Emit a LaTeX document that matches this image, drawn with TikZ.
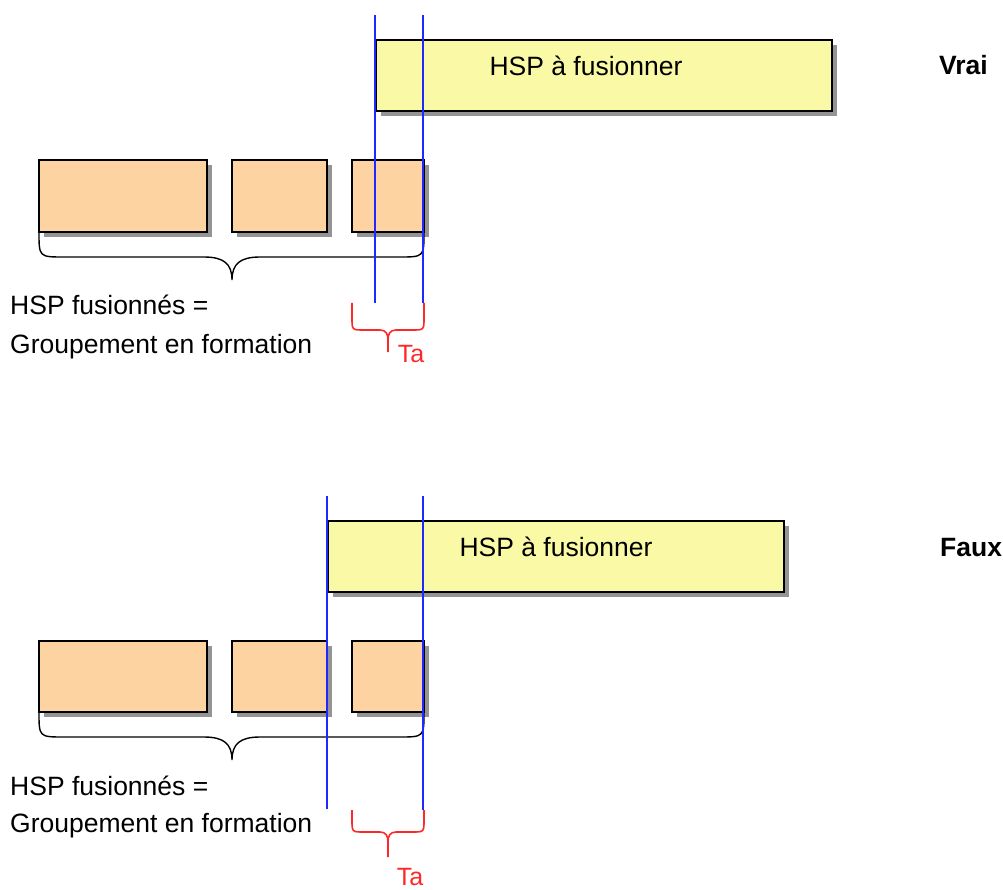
\documentclass[tikz,border=0pt]{standalone}
\usepackage{fontspec}
\setmainfont{Liberation Sans}
\definecolor{hspyellow}{RGB}{250,249,166}
\definecolor{hsporange}{RGB}{252,211,161}
\definecolor{markblue}{RGB}{30,40,255}
\definecolor{tared}{RGB}{255,40,40}
\tikzset{
  bar/.style={draw=black, line width=1.4pt, fill=hspyellow, inner sep=0pt, outer sep=0pt, anchor=north west},
  seg/.style={draw=black, line width=1.4pt, fill=hsporange, inner sep=0pt, outer sep=0pt, anchor=north west, minimum height=72pt},
  shadowfill/.style={fill=black!42},
  marker/.style={draw=markblue, line width=1.8pt},
  tabrace/.style={draw=tared, line width=1.6pt},
  grpbrace/.style={draw=black, line width=1.4pt},
  txt/.style={font=\fontsize{26.5}{30}\selectfont, inner sep=0pt, anchor=base west},
  boldtxt/.style={font=\fontsize{26.5}{30}\selectfont\bfseries, inner sep=0pt, anchor=base west},
  tatxt/.style={font=\fontsize{25}{30}\selectfont, text=tared, inner sep=0pt, text depth=0pt, anchor=base},
}
\begin{document}
\begin{tikzpicture}[x=1pt,y=-1pt]
\useasboundingbox (0,0) rectangle (1003,890);

% ---------------- top panel (Vrai) ----------------
\fill[shadowfill] (381,45) rectangle (837,116);
\node[bar, minimum width=456pt, minimum height=71pt] (hspA) at (376,40) {};
\node[txt, anchor=base] (hspAt) at (586,76) {HSP à fusionner};
\node[boldtxt] (vrai) at (939,75) {Vrai};

\fill[shadowfill] (44,165) rectangle (212,237);
\fill[shadowfill] (237,165) rectangle (332,237);
\fill[shadowfill] (357,165) rectangle (429,237);
\node[seg, minimum width=168pt] (a1) at (39,160) {};
\node[seg, minimum width=95pt] (a2) at (232,160) {};
\node[seg, minimum width=72pt] (a3) at (352,160) {};

\draw[grpbrace] (a1.south west) .. controls (39,257) .. (64,257) -- (204,257)
  .. controls (224,257) and (232,264) .. (232,280)
  .. controls (232,264) and (240,257) .. (260,257) -- (399,257)
  .. controls (424,257) .. (a3.south east);

\node[txt] (fusA) at (10,315) {HSP fusionnés =};
\node[txt] (grpA) at (10,353) {Groupement en formation};

\coordinate (bA1t) at (375,15);
\coordinate (bA1b) at (375,303);
\coordinate (bA2t) at (423,15);
\coordinate (bA2b) at (423,303);
\coordinate (rAl) at (352,303);
\coordinate (rAr) at (424,303);
\draw[tabrace] (rAl) -- (352,318) .. controls (352,330) .. (364,330) -- (380,330)
  .. controls (386,330) and (388,334) .. (388,340) -- (388,352)
  (388,340) .. controls (388,334) and (390,330) .. (396,330) -- (412,330)
  .. controls (424,330) .. (424,318) -- (rAr);
\node[tatxt] (taA) at (411,362) {Ta};
\draw[marker] (bA1t) -- (bA1b);
\draw[marker] (bA2t) -- (bA2b);

% ---------------- bottom panel (Faux) ----------------
\fill[shadowfill] (333,526) rectangle (789,597);
\node[bar, minimum width=456pt, minimum height=71pt] (hspB) at (328,521) {};
\node[txt, anchor=base] (hspBt) at (556,556) {HSP à fusionner};
\node[boldtxt] (faux) at (940,556) {Faux};

\fill[shadowfill] (44,646) rectangle (212,717);
\fill[shadowfill] (237,646) rectangle (332,717);
\fill[shadowfill] (357,646) rectangle (429,717);
\node[seg, minimum width=168pt, minimum height=71pt] (b1) at (39,641) {};
\node[seg, minimum width=95pt, minimum height=71pt] (b2) at (232,641) {};
\node[seg, minimum width=72pt, minimum height=71pt] (b3) at (352,641) {};

\draw[grpbrace] (b1.south west) .. controls (39,737) .. (64,737) -- (204,737)
  .. controls (224,737) and (232,744) .. (232,760)
  .. controls (232,744) and (240,737) .. (260,737) -- (399,737)
  .. controls (424,737) .. (b3.south east);

\node[txt] (fusB) at (10,795) {HSP fusionnés =};
\node[txt] (grpB) at (10,832) {Groupement en formation};

\coordinate (bB1t) at (327,496);
\coordinate (bB1b) at (327,809);
\coordinate (bB2t) at (423,496);
\coordinate (bB2b) at (423,810);
\coordinate (rBl) at (352,810);
\coordinate (rBr) at (424,810);
\draw[tabrace] (rBl) -- (352,820) .. controls (352,832) .. (364,832) -- (380,832)
  .. controls (386,832) and (388,836) .. (388,842) -- (388,857)
  (388,842) .. controls (388,836) and (390,832) .. (396,832) -- (412,832)
  .. controls (424,832) .. (424,820) -- (rBr);
\node[tatxt] (taB) at (410,885) {Ta};
\draw[marker] (bB1t) -- (bB1b);
\draw[marker] (bB2t) -- (bB2b);
\end{tikzpicture}
\end{document}
